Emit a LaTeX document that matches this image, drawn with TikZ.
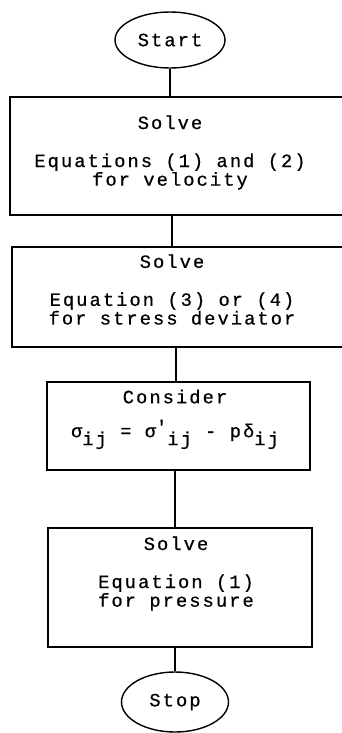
\documentclass[tikz,border=0pt]{standalone}
\usepackage{fontspec}
\newfontfamily\typew[LetterSpace=11, FakeBold=0.6]{Liberation Mono}
\usetikzlibrary{shapes.geometric, positioning}

\newcommand{\lowr}[1]{\raisebox{-0.8ex}{#1}}

\begin{document}
\begin{tikzpicture}[
    terminal/.style={ellipse, draw, line width=1.2pt, inner sep=0pt, font=\typew\fontsize{16}{14.5}\selectfont},
    stepbox/.style={rectangle, draw, line width=1.2pt, inner sep=0pt},
    boxtext/.style={align=center, inner sep=0pt, font=\typew\fontsize{16}{14.5}\selectfont},
    link/.style={line width=1.2pt},
]
\useasboundingbox (0,0) rectangle (10.26,-21.99);

% terminals
\node[terminal, minimum width=3.3cm, minimum height=1.68cm] (start) at (5.1, -1.2) {Start};
\node[terminal, minimum width=3.21cm, minimum height=1.8cm] (stop) at (5.25, -21.06) {Stop};

% boxes
\node[stepbox, minimum width=10.2cm, minimum height=3.54cm] (velocity) at (5.4, -4.68) {};
\node[stepbox, minimum width=10.14cm, minimum height=3cm] (deviator) at (5.43, -8.91) {};
\node[stepbox, minimum width=7.89cm, minimum height=2.64cm] (consider) at (5.355, -12.78) {};
\node[stepbox, minimum width=7.92cm, minimum height=3.57cm] (pressure) at (5.4, -17.625) {};

% box texts
\node[boxtext] (velocitytext) at (5.1, -4.575) {Solve\\[0.63cm]Equations (1) and (2)\\for velocity};
\node[boxtext] (deviatortext) at (5.16, -8.685) {Solve\\[0.63cm]Equation (3) or (4)\\for stress deviator};
\node[boxtext] (considertext) at (5.25, -12.58) {Consider\\[0.45cm]σ\lowr{ij} = σ\raisebox{0.4ex}{'}\lowr{ij} - pδ\lowr{ij}};
\node[boxtext] (pressuretext) at (5.28, -17.205) {Solve\\[0.63cm]Equation (1)\\for pressure};

% connectors
\draw[link] (start.south) -- (start.south |- velocity.north);
\draw[link] ([xshift=-0.24cm]velocity.south) -- ([xshift=-0.24cm]velocity.south |- deviator.north);
\draw[link] ([xshift=-0.15cm]deviator.south) -- ([xshift=-0.15cm]deviator.south |- consider.north);
\draw[link] ([xshift=-0.1cm]consider.south) -- ([xshift=-0.1cm]consider.south |- pressure.north);
\draw[link] ([xshift=-0.15cm]pressure.south) -- ([xshift=-0.15cm]pressure.south |- stop.north);

\end{tikzpicture}
\end{document}
